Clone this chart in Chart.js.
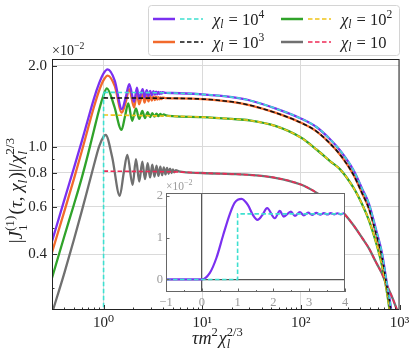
<!DOCTYPE html>
<html>
<head>
<meta charset="utf-8">
<script src="https://cdn.jsdelivr.net/npm/chart.js@4.4.1/dist/chart.umd.min.js"></script>
<style>
  html, body { margin: 0; padding: 0; background: #fff; }
  #wrap { position: relative; width: 415px; height: 361px; }
  #main { position: absolute; left: 0; top: 0; }
  #inset { position: absolute; left: 140px; top: 178px; }
</style>
</head>
<body>
<div id="wrap">
  <canvas id="main" width="415" height="361"></canvas>
  <canvas id="inset" width="215" height="135"></canvas>
</div>
<script>
// ---- main plot data (values in units of 10^-2) ----
const riseTau = [0.3, 0.4, 0.5, 0.6, 0.7, 0.8, 0.9, 1.0];
const chi4Rise = [0.446, 0.636, 0.834, 1.046, 1.277, 1.515, 1.72, 1.875];
const chi3Rise = [0.406, 0.576, 0.759, 0.961, 1.183, 1.41, 1.616, 1.77];
const chi2Rise = [0.326, 0.466, 0.61, 0.766, 0.948, 1.156, 1.371, 1.557];
const chi1Rise = [0.241, 0.34, 0.452, 0.576, 0.713, 0.858, 1.003, 1.092];

// oscillations after the peak
const oscTau = [1.1, 1.3, 1.53, 1.68, 1.82, 2.04, 2.18, 2.29, 2.49, 2.6, 2.74, 2.85, 2.97, 3.08, 3.2, 3.31, 3.41, 3.51, 3.6, 3.7, 3.79, 3.88, 3.97, 4.3];
const chi4Osc = [1.94, 1.76, 1.38, 1.53, 1.71, 1.47, 1.66, 1.51, 1.64, 1.53, 1.625, 1.545, 1.615, 1.555, 1.61, 1.563, 1.605, 1.568, 1.60, 1.572, 1.598, 1.576, 1.596, 1.586];
const chi3Osc = [1.84, 1.68, 1.34, 1.47, 1.64, 1.40, 1.59, 1.44, 1.57, 1.46, 1.555, 1.475, 1.545, 1.485, 1.54, 1.493, 1.535, 1.498, 1.53, 1.502, 1.527, 1.506, 1.525, 1.517];
const chi2OscTau = [1.08, 1.28, 1.52, 1.65, 1.78, 1.95, 2.13, 2.3, 2.47, 2.63, 2.8, 2.96, 3.12, 3.28, 3.44, 3.6, 3.76, 3.92, 4.08, 4.3];
const chi2Osc = [1.65, 1.42, 1.156, 1.30, 1.45, 1.25, 1.39, 1.27, 1.36, 1.28, 1.345, 1.29, 1.335, 1.295, 1.33, 1.30, 1.325, 1.305, 1.32, 1.31];
const chi1OscTau = [1.05, 1.22, 1.46, 1.6, 1.74, 1.97, 2.13, 2.3, 2.47, 2.63, 2.8, 2.96, 3.12, 3.28, 3.44, 3.6, 3.76, 3.92, 4.08, 4.24, 4.4, 4.56, 4.72, 4.88, 5.04, 5.2, 5.4, 5.8];
const chi1Osc = [1.107, 0.92, 0.658, 0.80, 0.934, 0.723, 0.90, 0.744, 0.882, 0.759, 0.87, 0.77, 0.86, 0.775, 0.852, 0.78, 0.845, 0.785, 0.84, 0.79, 0.835, 0.795, 0.83, 0.80, 0.825, 0.805, 0.82, 0.812];

// asymptotic (dashed) curves, also followed by the solid ones at large tau
const tailTau = [1, 3, 5, 10, 20, 30, 55, 100, 145, 200, 250, 340, 420, 490, 580, 660, 740, 820, 900, 1000];
const chi4Tail = [1.594, 1.59, 1.585, 1.567, 1.53, 1.49, 1.39, 1.275, 1.183, 1.063, 0.97, 0.822, 0.697, 0.615, 0.49, 0.408, 0.316, 0.251, 0.18, 0.12];
const chi3Tail = [1.52, 1.517, 1.515, 1.505, 1.47, 1.43, 1.34, 1.23, 1.14, 1.025, 0.935, 0.79, 0.67, 0.59, 0.475, 0.395, 0.308, 0.245, 0.18, 0.12];
const chi2Tail = [1.314, 1.305, 1.30, 1.29, 1.27, 1.255, 1.196, 1.083, 0.976, 0.882, 0.825, 0.707, 0.61, 0.534, 0.44, 0.367, 0.294, 0.225, 0.16, 0.11];
const chi1Tail = [0.813, 0.81, 0.808, 0.80, 0.793, 0.787, 0.768, 0.725, 0.675, 0.62, 0.586, 0.513, 0.458, 0.42, 0.372, 0.34, 0.308, 0.283, 0.26, 0.233];
const stepTau = [1, 1];
const stepVal = [0.2, 1.594];

// axis ticks
const xTickVals = [0.3, 0.4, 0.5, 0.6, 0.7, 0.8, 0.9, 1, 2, 3, 4, 5, 6, 7, 8, 9, 10, 20, 30, 40, 50, 60, 70, 80, 90, 100, 200, 300, 400, 500, 600, 700, 800, 900, 1000];
const xTickLabels = { 1: '10⁰', 10: '10¹', 100: '10²', 1000: '10³' };
const yTickVals = [0.3, 0.4, 0.5, 0.6, 0.7, 0.8, 0.9, 1, 2];
const yTickLabels = { 0.4: '0.4', 0.6: '0.6', 0.8: '0.8', 1: '1.0', 2: '2.0' };

// ---- inset data (chi = 10^4, linear axes) ----
const insetT = [-1, 0, 0.22, 0.41, 0.6, 0.78, 0.92, 1.11, 1.29, 1.43, 1.555, 1.69, 1.825, 2.04, 2.18, 2.29, 2.49, 2.6, 2.74, 2.85, 2.97, 3.08, 3.2, 3.31, 3.41, 3.51, 3.6, 3.7, 3.79, 3.88, 3.97, 4];
const insetJ = [0, 0, 0.15, 0.52, 1.07, 1.56, 1.84, 1.93, 1.78, 1.54, 1.425, 1.54, 1.707, 1.466, 1.64, 1.505, 1.625, 1.52, 1.61, 1.535, 1.60, 1.545, 1.595, 1.55, 1.59, 1.555, 1.59, 1.56, 1.585, 1.56, 1.585, 1.58];
const insetStepT = [-1, 1, 1, 4];
const insetStepJ = [0, 0, 1.57, 1.57];
const insetXTicks = [-1, 0, 1, 2, 3, 4];
const insetYTicks = [0, 1, 2];

const FONT = "'Liberation Serif', 'DejaVu Serif', serif";
Chart.defaults.font.family = FONT;

const purple = '#7a30f0', cyan = '#3ee0d0', orange = '#f26a2c', black = '#111111';
const green = '#30a32a', yellow = '#f0c419', gray = '#707070', red = '#ee2a55';

const mk = (xs, ys) => xs.map((x, i) => ({ x: x, y: ys[i] }));
const after = (xs, ys, t0) => mk(xs, ys).filter(p => p.x > t0);

function solid(data, color) {
  return { data, borderColor: color, borderWidth: 2.3, pointRadius: 0, fill: false,
           cubicInterpolationMode: 'monotone', clip: 0 };
}
function dashed(data, color, straight) {
  const d = { data, borderColor: color, borderWidth: 1.6, borderDash: [4.5, 2.5], pointRadius: 0,
              fill: false, clip: 0 };
  if (straight) d.tension = 0; else d.cubicInterpolationMode = 'monotone';
  return d;
}

// ---- rich text helper (sub/superscripts) ----
function fontStr(it, size) { return (it ? 'italic ' : '') + size + 'px ' + FONT; }
function segWidth(ctx, s, size) {
  if (s.t !== undefined) { ctx.font = fontStr(s.it, size); return ctx.measureText(s.t).width; }
  let w = 0;
  if (s.sub) { ctx.font = fontStr(s.subIt, size * 0.7); w = Math.max(w, ctx.measureText(s.sub).width); }
  if (s.sup) { ctx.font = fontStr(false, size * 0.7); w = Math.max(w, ctx.measureText(s.sup).width); }
  return w + size * 0.06;
}
function drawRich(ctx, segs, x0, y0, size, angle, align, color) {
  ctx.save();
  ctx.translate(x0, y0);
  ctx.rotate(angle);
  ctx.fillStyle = color;
  ctx.textAlign = 'left';
  ctx.textBaseline = 'alphabetic';
  const total = segs.reduce((a, s) => a + segWidth(ctx, s, size), 0);
  let x = align === 'center' ? -total / 2 : 0;
  segs.forEach(s => {
    const w = segWidth(ctx, s, size);
    if (s.t !== undefined) { ctx.font = fontStr(s.it, size); ctx.fillText(s.t, x, 0); }
    if (s.sub) { ctx.font = fontStr(s.subIt, size * 0.7); ctx.fillText(s.sub, x, size * 0.24); }
    if (s.sup) { ctx.font = fontStr(false, size * 0.7); ctx.fillText(s.sup, x, -size * 0.42); }
    x += w;
  });
  ctx.restore();
}

const legendRows = [
  { x: 153, y: 19, line: purple, dash: cyan, exp: '4' },
  { x: 153, y: 42, line: orange, dash: black, exp: '3' },
  { x: 281, y: 19, line: green, dash: yellow, exp: '2' },
  { x: 281, y: 42, line: gray, dash: red, exp: '' }
];

const mainDeco = {
  id: 'mainDeco',
  afterDraw(chart) {
    const { ctx, chartArea: a, scales } = chart;
    ctx.save();
    ctx.strokeStyle = '#333';
    ctx.lineWidth = 1;
    scales.x.ticks.forEach(t => {
      const px = Math.round(scales.x.getPixelForValue(t.value)) + 0.5;
      const len = xTickLabels[t.value] ? 5 : 2.5;
      ctx.beginPath(); ctx.moveTo(px, a.bottom); ctx.lineTo(px, a.bottom - len); ctx.stroke();
    });
    scales.y.ticks.forEach(t => {
      const py = Math.round(scales.y.getPixelForValue(t.value)) + 0.5;
      const len = yTickLabels[t.value] ? 5 : 2.5;
      ctx.beginPath(); ctx.moveTo(a.left, py); ctx.lineTo(a.left + len, py); ctx.stroke();
    });
    ctx.strokeStyle = '#222';
    ctx.strokeRect(a.left + 0.5, a.top + 0.5, a.right - a.left - 1, a.bottom - a.top - 1);

    // legend box
    const bx = 148.5, by = 5.5, bw = 251, bh = 50, r = 3;
    ctx.beginPath();
    ctx.moveTo(bx + r, by); ctx.lineTo(bx + bw - r, by); ctx.arcTo(bx + bw, by, bx + bw, by + r, r);
    ctx.lineTo(bx + bw, by + bh - r); ctx.arcTo(bx + bw, by + bh, bx + bw - r, by + bh, r);
    ctx.lineTo(bx + r, by + bh); ctx.arcTo(bx, by + bh, bx, by + bh - r, r);
    ctx.lineTo(bx, by + r); ctx.arcTo(bx, by, bx + r, by, r);
    ctx.closePath();
    ctx.fillStyle = 'rgba(255,255,255,0.9)';
    ctx.fill();
    ctx.strokeStyle = '#d4d4d4';
    ctx.stroke();
    legendRows.forEach(row => {
      ctx.setLineDash([]);
      ctx.lineWidth = 2.5; ctx.strokeStyle = row.line;
      ctx.beginPath(); ctx.moveTo(row.x, row.y); ctx.lineTo(row.x + 22, row.y); ctx.stroke();
      ctx.lineWidth = 1.6; ctx.strokeStyle = row.dash; ctx.setLineDash([4.5, 2.5]);
      ctx.beginPath(); ctx.moveTo(row.x + 27, row.y); ctx.lineTo(row.x + 50, row.y); ctx.stroke();
      ctx.setLineDash([]);
      const segs = [{ t: 'χ', it: true }, { sub: 'l', subIt: true }, { t: ' = 10' }];
      if (row.exp) segs.push({ sup: row.exp });
      drawRich(ctx, segs, row.x + 60, row.y + 5.5, 16.5, 0, 'left', '#222');
    });

    // multiplier and axis titles
    drawRich(ctx, [{ t: '×10' }, { sup: '−2' }], 52, 55, 14, 0, 'left', '#222');
    drawRich(ctx, [{ t: 'τm', it: true }, { sup: '2' }, { t: 'χ', it: true }, { sub: 'l', subIt: true, sup: '2/3' }],
             218, 344, 18, 0, 'center', '#222');
    drawRich(ctx, [{ t: '|' }, { t: 'J', it: true }, { sub: '1', sup: '(1)' }, { t: '(' }, { t: 'τ', it: true },
                   { t: ', ' }, { t: 'χ', it: true }, { sub: 'l', subIt: true }, { t: ')|/' }, { t: 'χ', it: true },
                   { sub: 'l', subIt: true, sup: '2/3' }],
             22, 190, 19, -Math.PI / 2, 'center', '#222');
    ctx.restore();
  }
};

new Chart(document.getElementById('main'), {
  type: 'line',
  data: {
    datasets: [
      dashed(mk(stepTau, stepVal), cyan, true),
      dashed(mk(tailTau, chi4Tail), cyan),
      dashed(mk(tailTau, chi3Tail), black),
      dashed(mk(tailTau, chi2Tail), yellow),
      dashed(mk(tailTau, chi1Tail), red),
      solid([...mk(riseTau, chi4Rise), ...mk(oscTau, chi4Osc), ...after(tailTau, chi4Tail, 4.3)], purple),
      solid([...mk(riseTau, chi3Rise), ...mk(oscTau, chi3Osc), ...after(tailTau, chi3Tail, 4.3)], orange),
      solid([...mk(riseTau, chi2Rise), ...mk(chi2OscTau, chi2Osc), ...after(tailTau, chi2Tail, 4.3)], green),
      solid([...mk(riseTau, chi1Rise), ...mk(chi1OscTau, chi1Osc), ...after(tailTau, chi1Tail, 5.8)], gray)
    ]
  },
  options: {
    responsive: false,
    animation: false,
    events: [],
    layout: { padding: { left: 0, top: 59, right: 15.5, bottom: 0 } },
    plugins: { legend: { display: false }, tooltip: { enabled: false } },
    scales: {
      x: {
        type: 'logarithmic', min: 0.3, max: 1000,
        afterFit: s => { s.height = 51; },
        afterBuildTicks: s => { s.ticks = xTickVals.map(v => ({ value: v })); },
        ticks: { callback: v => xTickLabels[v] || '', autoSkip: false, maxRotation: 0,
                 color: '#222', font: { size: 15 }, padding: 4 },
        grid: { drawTicks: false, color: c => (c.tick && xTickLabels[c.tick.value]) ? '#dadada' : 'rgba(0,0,0,0)' },
        border: { display: false }
      },
      y: {
        type: 'logarithmic', min: 0.248, max: 2.12,
        afterFit: s => { s.width = 52; },
        afterBuildTicks: s => { s.ticks = yTickVals.map(v => ({ value: v })); },
        ticks: { callback: v => yTickLabels[v] || '', autoSkip: false, color: '#222',
                 font: { size: 15 }, padding: 5 },
        grid: { drawTicks: false, color: c => (c.tick && yTickLabels[c.tick.value]) ? '#dadada' : 'rgba(0,0,0,0)' },
        border: { display: false }
      }
    }
  },
  plugins: [mainDeco]
});

// ---- inset ----
const insetDeco = {
  id: 'insetDeco',
  beforeDraw(chart) {
    const { ctx, chartArea: a } = chart;
    ctx.save();
    ctx.fillStyle = '#fff';
    ctx.fillRect(a.left, a.top, a.right - a.left, a.bottom - a.top);
    ctx.restore();
  },
  afterDraw(chart) {
    const { ctx, chartArea: a, scales } = chart;
    ctx.save();
    ctx.strokeStyle = '#666';
    ctx.lineWidth = 1;
    for (let v = -1; v <= 4; v += 0.5) {
      const px = Math.round(scales.x.getPixelForValue(v)) + 0.5;
      const len = Number.isInteger(v) ? 3.5 : 2;
      ctx.beginPath(); ctx.moveTo(px, a.bottom); ctx.lineTo(px, a.bottom - len); ctx.stroke();
    }
    insetYTicks.forEach(v => {
      const py = Math.round(scales.y.getPixelForValue(v)) + 0.5;
      ctx.beginPath(); ctx.moveTo(a.left, py); ctx.lineTo(a.left + 3.5, py); ctx.stroke();
    });
    ctx.strokeRect(a.left + 0.5, a.top + 0.5, a.right - a.left - 1, a.bottom - a.top - 1);
    drawRich(ctx, [{ t: '×10' }, { sup: '−2' }], a.left, a.top - 3, 11.5, 0, 'left', '#999');
    ctx.restore();
  }
};

new Chart(document.getElementById('inset'), {
  type: 'line',
  data: {
    datasets: [
      dashed(mk(insetStepT, insetStepJ), cyan, true),
      { data: mk(insetT, insetJ), borderColor: purple, borderWidth: 2.2, pointRadius: 0, fill: false,
        cubicInterpolationMode: 'monotone', clip: 0 }
    ]
  },
  options: {
    responsive: false,
    animation: false,
    events: [],
    layout: { padding: { left: 0, top: 15, right: 10, bottom: 0 } },
    plugins: { legend: { display: false }, tooltip: { enabled: false } },
    scales: {
      x: {
        type: 'linear', min: -1, max: 4,
        afterFit: s => { s.height = 21; },
        afterBuildTicks: s => { s.ticks = insetXTicks.map(v => ({ value: v })); },
        ticks: { callback: v => v < 0 ? '−' + (-v) : String(v), maxRotation: 0, color: '#999',
                 font: { size: 12.5 }, padding: 3 },
        grid: { drawTicks: false, lineWidth: 1.3,
                color: c => (c.tick && c.tick.value === 0) ? '#555' : 'rgba(0,0,0,0)' },
        border: { display: false }
      },
      y: {
        type: 'linear', min: -0.3, max: 2.07,
        afterFit: s => { s.width = 26; },
        afterBuildTicks: s => { s.ticks = insetYTicks.map(v => ({ value: v })); },
        ticks: { color: '#999', font: { size: 12.5 }, padding: 3 },
        grid: { drawTicks: false, lineWidth: 1.3,
                color: c => (c.tick && c.tick.value === 0) ? '#555' : 'rgba(0,0,0,0)' },
        border: { display: false }
      }
    }
  },
  plugins: [insetDeco]
});
</script>
</body>
</html>
